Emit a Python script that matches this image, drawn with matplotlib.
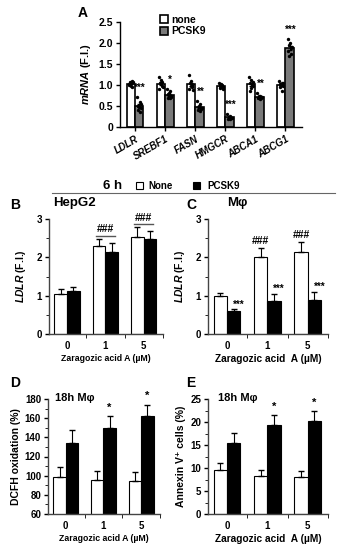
import matplotlib
matplotlib.use('Agg')
import matplotlib.pyplot as plt
import numpy as np
from matplotlib.patches import Rectangle
from matplotlib.lines import Line2D

plt.rcParams['font.family'] = ['Liberation Sans', 'DejaVu Sans']
plt.rcParams['font.weight'] = 'bold'
plt.rcParams['axes.labelweight'] = 'bold'
plt.rcParams['axes.linewidth'] = 1.0
plt.rcParams['mathtext.fontset'] = 'custom'
plt.rcParams['mathtext.it'] = 'Liberation Sans:italic:bold'
plt.rcParams['mathtext.rm'] = 'Liberation Sans:bold'
plt.rcParams['mathtext.bf'] = 'Liberation Sans:bold'

# ---- data ----
genes = ['LDLR', 'SREBF1', 'FASN', 'HMGCR', 'ABCA1', 'ABCG1']
none_pts = [
    [1.00, 1.05, 1.08, 0.95, 1.02, 1.10, 0.98, 1.06],
    [1.18, 1.12, 1.05, 0.98, 0.90, 1.08, 1.02, 0.95],
    [1.25, 1.10, 1.05, 0.95, 0.90, 1.00, 0.98, 0.88],
    [1.05, 1.02, 0.98, 0.95, 0.92, 1.00, 0.96, 0.90],
    [1.18, 1.12, 1.05, 0.98, 0.85, 1.00, 0.92, 1.08],
    [1.10, 1.05, 1.02, 0.98, 0.95, 0.85, 1.00, 1.04],
]
pcsk9_pts = [
    [0.72, 0.60, 0.50, 0.45, 0.40, 0.35, 0.48, 0.55],
    [0.90, 0.85, 0.78, 0.72, 0.70, 0.68, 0.80, 0.75],
    [0.62, 0.55, 0.48, 0.42, 0.40, 0.38, 0.50, 0.45],
    [0.30, 0.27, 0.25, 0.22, 0.20, 0.18, 0.24, 0.21],
    [0.80, 0.75, 0.72, 0.70, 0.68, 0.66, 0.73, 0.71],
    [2.10, 2.00, 1.95, 1.88, 1.82, 1.75, 1.68, 1.90],
]
sig_a = ['***', '*', '**', '***', '**', '***']

doses = ['0', '1', '5']
hep_none = [1.05, 2.30, 2.53]
hep_none_err = [0.12, 0.18, 0.25]
hep_pcsk9 = [1.13, 2.15, 2.47]
hep_pcsk9_err = [0.10, 0.23, 0.22]

mac_none = [0.98, 2.00, 2.13]
mac_none_err = [0.10, 0.25, 0.27]
mac_pcsk9 = [0.60, 0.87, 0.90]
mac_pcsk9_err = [0.05, 0.18, 0.20]

dcfh_none = [99, 96, 94]
dcfh_none_err = [10, 8.5, 10]
dcfh_pcsk9 = [134, 150, 162]
dcfh_pcsk9_err = [14, 12, 12]

annex_none = [9.6, 8.2, 8.1]
annex_none_err = [1.4, 1.4, 1.2]
annex_pcsk9 = [15.5, 19.4, 20.3]
annex_pcsk9_err = [2.1, 2.1, 2.2]

W, H = 339, 550
fig = plt.figure(figsize=(W / 100, H / 100), dpi=100)


def px_axes(x0, x1, ytop, ybot):
    return fig.add_axes([x0 / W, (H - ybot) / H, (x1 - x0) / W, (ybot - ytop) / H])


def style(ax):
    for s in ['top', 'right']:
        ax.spines[s].set_visible(False)
    ax.tick_params(direction='out', length=3, width=1, labelsize=7, pad=2)


# ---- panel A ----
axA = px_axes(120, 302, 22, 127)
style(axA)
x = np.arange(len(genes))
bw = 0.28
none_m = [np.mean(p) for p in none_pts]
pc_m = [np.mean(p) for p in pcsk9_pts]
none_e = [np.std(p) / np.sqrt(len(p)) for p in none_pts]
pc_e = [np.std(p) / np.sqrt(len(p)) for p in pcsk9_pts]
axA.bar(x - bw / 2, none_m, bw, color='white', edgecolor='black', lw=1.2,
        yerr=none_e, capsize=1.5, error_kw=dict(lw=0.8), label='none', zorder=2)
axA.bar(x + bw / 2, pc_m, bw, color='#7a7a7a', edgecolor='black', lw=1.2,
        yerr=pc_e, capsize=1.5, error_kw=dict(lw=0.8), label='PCSK9', zorder=2)
for i in range(len(genes)):
    n = len(none_pts[i])
    off = np.linspace(-0.07, 0.07, n)[[0, 4, 2, 6, 1, 5, 3, 7][:n]]
    axA.scatter(x[i] - bw / 2 + off, none_pts[i], s=6, color='black', zorder=3, lw=0)
    axA.scatter(x[i] + bw / 2 + off, pcsk9_pts[i], s=6, color='black', zorder=3, lw=0)
    axA.text(x[i] + bw / 2 + 0.03, max(pcsk9_pts[i]) + 0.1, sig_a[i],
             ha='center', va='bottom', fontsize=7)
axA.set_xlim(-0.5, 5.55)
axA.set_ylim(0, 2.5)
axA.set_yticks([0, 0.5, 1.0, 1.5, 2.0, 2.5])
axA.set_yticklabels(['0', '0.5', '1.0', '1.5', '2.0', '2.5'], fontsize=7.5)
axA.set_xticks(x)
axA.set_xticklabels(genes, rotation=30, ha='right', rotation_mode='anchor',
                    fontsize=7, style='italic')
axA.set_ylabel(r'$\it{mRNA}$ (F.I.)', fontsize=8, labelpad=4)
axA.legend(loc='upper left', bbox_to_anchor=(0.19, 1.12), frameon=False,
           fontsize=7.5, handlelength=0.8, handleheight=0.8, handletextpad=0.3,
           labelspacing=0.15, borderpad=0)
fig.text(78 / W, 1 - 13 / H, 'A', fontsize=10, va='center')

# ---- header ----
fig.add_artist(Line2D([52 / W, 335 / W], [1 - 193 / H] * 2, color='#666666', lw=0.8))
fig.text(103 / W, 1 - 186 / H, '6 h', fontsize=9.5, va='center')
fig.add_artist(Rectangle((136 / W, 1 - 189.5 / H), 7 / W, 7 / H, transform=fig.transFigure,
                         facecolor='white', edgecolor='black', lw=0.8))
fig.text(148 / W, 1 - 186 / H, 'None', fontsize=7, va='center')
fig.add_artist(Rectangle((193 / W, 1 - 189.5 / H), 7 / W, 7 / H, transform=fig.transFigure,
                         facecolor='black', edgecolor='black', lw=0.8))
fig.text(207 / W, 1 - 186 / H, 'PCSK9', fontsize=7, va='center')


def grouped(ax, a, ae, b, be, ylim, major, minor):
    style(ax)
    xs = np.arange(len(doses))
    w = 0.33
    ax.bar(xs - w / 2, a, w, color='white', edgecolor='black', lw=0.8,
           yerr=[np.zeros(len(ae)), ae], capsize=2.5, error_kw=dict(lw=0.8), zorder=2)
    ax.bar(xs + w / 2, b, w, color='black', edgecolor='black', lw=0.8,
           yerr=[np.zeros(len(be)), be], capsize=2.5, error_kw=dict(lw=0.8), zorder=2)
    ax.set_xlim(-0.47, 2.5)
    ax.set_ylim(*ylim)
    ax.set_xticks(xs)
    ax.set_xticklabels(doses, fontsize=7)
    ax.set_xticks([0.5, 1.5, 2.5], minor=True)
    ax.tick_params(axis='x', which='major', length=0, pad=5)
    ax.tick_params(axis='x', which='minor', length=3)
    ax.set_yticks(major)
    ax.set_yticks(minor, minor=True)
    ax.tick_params(axis='y', which='minor', length=2)
    for s in ['left', 'bottom']:
        ax.spines[s].set_color('#444444')
    return xs, w


# ---- panel B ----
axB = px_axes(49, 163, 219, 334)
xs, w = grouped(axB, hep_none, hep_none_err, hep_pcsk9, hep_pcsk9_err, (0, 3),
                [0, 1, 2, 3], np.arange(0, 3.01, 0.5))
axB.set_yticklabels(['0', '1', '2', '3'], fontsize=7)
for i in [1, 2]:
    top = max(hep_none[i] + hep_none_err[i], hep_pcsk9[i] + hep_pcsk9_err[i])
    axB.plot([xs[i] - 0.25, xs[i] + 0.25], [top + 0.08] * 2, color='#555555', lw=1)
    axB.text(xs[i], top + 0.12, '###', ha='center', va='bottom', fontsize=7.5, clip_on=False)
axB.set_ylabel(r'$\it{LDLR}$ (F.I.)', fontsize=7.5, labelpad=6)
axB.set_xlabel('Zaragozic acid A (µM)', fontsize=6.3, labelpad=2)
fig.text(10 / W, 1 - 205 / H, 'B', fontsize=10, va='center')
fig.text(53 / W, 1 - 203 / H, 'HepG2', fontsize=9.5, va='center')

# ---- panel C ----
axC = px_axes(208, 328, 219, 334)
xs, w = grouped(axC, mac_none, mac_none_err, mac_pcsk9, mac_pcsk9_err, (0, 3),
                [0, 1, 2, 3], np.arange(0, 3.01, 0.5))
axC.set_yticklabels(['0', '1', '2', '3'], fontsize=7)
for i in [1, 2]:
    axC.text(xs[i] - w / 2, mac_none[i] + mac_none_err[i] + 0.05, '###',
             ha='center', va='bottom', fontsize=7.5)
for i in range(3):
    axC.text(xs[i] + w / 2 + 0.12, mac_pcsk9[i] + mac_pcsk9_err[i] + 0.12, '***',
             ha='center', va='center', fontsize=7)
axC.set_ylabel(r'$\it{LDLR}$ (F.I.)', fontsize=7.5, labelpad=6)
axC.set_xlabel('Zaragozic acid  A (µM)', fontsize=7.3, labelpad=2)
fig.text(186 / W, 1 - 205 / H, 'C', fontsize=10, va='center')
fig.text(227 / W, 1 - 203 / H, 'Mφ', fontsize=9.5, va='center')

# ---- panel D ----
axD = px_axes(48, 160, 399, 514)
xs, w = grouped(axD, dcfh_none, dcfh_none_err, dcfh_pcsk9, dcfh_pcsk9_err, (60, 180),
                np.arange(60, 181, 20), np.arange(60, 181, 10))
axD.set_yticklabels([str(v) for v in range(60, 181, 20)], fontsize=7)
for i in [1, 2]:
    axD.text(xs[i] + w / 2, dcfh_pcsk9[i] + dcfh_pcsk9_err[i] + 4, '*',
             ha='center', va='bottom', fontsize=8, clip_on=False)
axD.set_ylabel('DCFH oxidation (%)', fontsize=7.5, labelpad=3)
axD.set_xlabel('Zaragozic acid A (µM)', fontsize=6.3, labelpad=2)
fig.text(10 / W, 1 - 383 / H, 'D', fontsize=10, va='center')
fig.text(55 / W, 1 - 398 / H, '18h Mφ', fontsize=8, va='center')

# ---- panel E ----
axE = px_axes(208, 328, 399, 514)
xs, w = grouped(axE, annex_none, annex_none_err, annex_pcsk9, annex_pcsk9_err, (0, 25),
                np.arange(0, 26, 5), np.arange(0, 25.1, 2.5))
axE.set_yticklabels([str(v) for v in range(0, 26, 5)], fontsize=7)
for i in [1, 2]:
    axE.text(xs[i] + w / 2, annex_pcsk9[i] + annex_pcsk9_err[i] + 0.6, '*',
             ha='center', va='bottom', fontsize=8, clip_on=False)
axE.set_ylabel('Annexin V⁺ cells (%)', fontsize=7.5, labelpad=3)
axE.set_xlabel('Zaragozic acid  A (µM)', fontsize=7.3, labelpad=2)
fig.text(186 / W, 1 - 383 / H, 'E', fontsize=10, va='center')
fig.text(218 / W, 1 - 398 / H, '18h Mφ', fontsize=8, va='center')

fig.savefig('out.png', dpi=100)
plt.close(fig)
